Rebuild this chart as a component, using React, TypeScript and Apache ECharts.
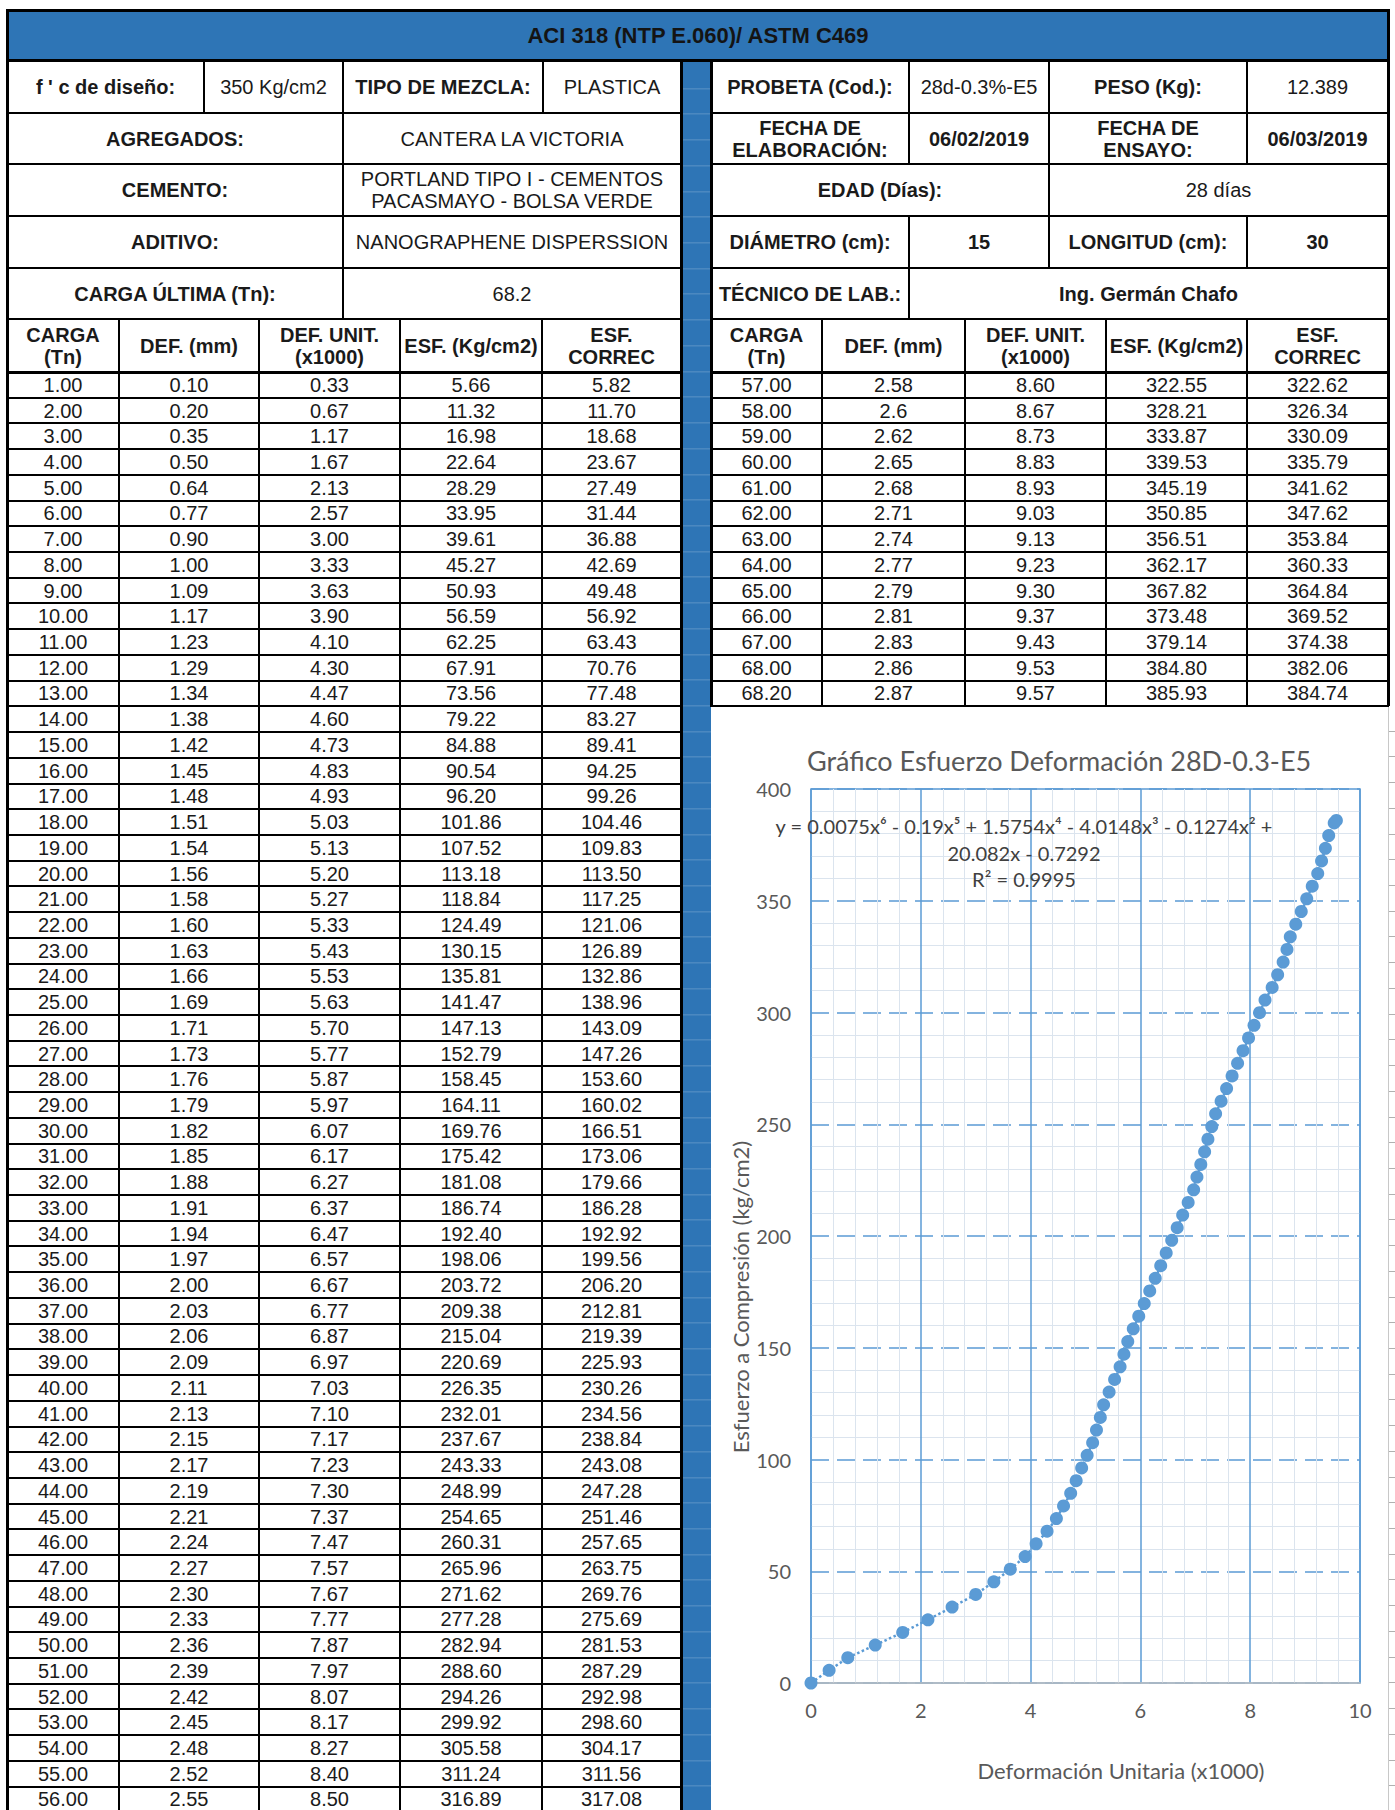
import React, { useEffect, useRef } from "react";
import * as echarts from "echarts";

// ---------------- DATA ----------------
const carga = [
  "1.00","2.00","3.00","4.00","5.00","6.00","7.00","8.00","9.00","10.00",
  "11.00","12.00","13.00","14.00","15.00","16.00","17.00","18.00","19.00","20.00",
  "21.00","22.00","23.00","24.00","25.00","26.00","27.00","28.00","29.00","30.00",
  "31.00","32.00","33.00","34.00","35.00","36.00","37.00","38.00","39.00","40.00",
  "41.00","42.00","43.00","44.00","45.00","46.00","47.00","48.00","49.00","50.00",
  "51.00","52.00","53.00","54.00","55.00","56.00",
  "57.00","58.00","59.00","60.00","61.00","62.00","63.00","64.00","65.00","66.00",
  "67.00","68.00","68.20",
];
const defMm = [
  "0.10","0.20","0.35","0.50","0.64","0.77","0.90","1.00","1.09","1.17",
  "1.23","1.29","1.34","1.38","1.42","1.45","1.48","1.51","1.54","1.56",
  "1.58","1.60","1.63","1.66","1.69","1.71","1.73","1.76","1.79","1.82",
  "1.85","1.88","1.91","1.94","1.97","2.00","2.03","2.06","2.09","2.11",
  "2.13","2.15","2.17","2.19","2.21","2.24","2.27","2.30","2.33","2.36",
  "2.39","2.42","2.45","2.48","2.52","2.55",
  "2.58","2.6","2.62","2.65","2.68","2.71","2.74","2.77","2.79","2.81",
  "2.83","2.86","2.87",
];
const defUnit = [
  "0.33","0.67","1.17","1.67","2.13","2.57","3.00","3.33","3.63","3.90",
  "4.10","4.30","4.47","4.60","4.73","4.83","4.93","5.03","5.13","5.20",
  "5.27","5.33","5.43","5.53","5.63","5.70","5.77","5.87","5.97","6.07",
  "6.17","6.27","6.37","6.47","6.57","6.67","6.77","6.87","6.97","7.03",
  "7.10","7.17","7.23","7.30","7.37","7.47","7.57","7.67","7.77","7.87",
  "7.97","8.07","8.17","8.27","8.40","8.50",
  "8.60","8.67","8.73","8.83","8.93","9.03","9.13","9.23","9.30","9.37",
  "9.43","9.53","9.57",
];
const esf = [
  "5.66","11.32","16.98","22.64","28.29","33.95","39.61","45.27","50.93","56.59",
  "62.25","67.91","73.56","79.22","84.88","90.54","96.20","101.86","107.52","113.18",
  "118.84","124.49","130.15","135.81","141.47","147.13","152.79","158.45","164.11","169.76",
  "175.42","181.08","186.74","192.40","198.06","203.72","209.38","215.04","220.69","226.35",
  "232.01","237.67","243.33","248.99","254.65","260.31","265.96","271.62","277.28","282.94",
  "288.60","294.26","299.92","305.58","311.24","316.89",
  "322.55","328.21","333.87","339.53","345.19","350.85","356.51","362.17","367.82","373.48",
  "379.14","384.80","385.93",
];
const esfCorrec = [
  "5.82","11.70","18.68","23.67","27.49","31.44","36.88","42.69","49.48","56.92",
  "63.43","70.76","77.48","83.27","89.41","94.25","99.26","104.46","109.83","113.50",
  "117.25","121.06","126.89","132.86","138.96","143.09","147.26","153.60","160.02","166.51",
  "173.06","179.66","186.28","192.92","199.56","206.20","212.81","219.39","225.93","230.26",
  "234.56","238.84","243.08","247.28","251.46","257.65","263.75","269.76","275.69","281.53",
  "287.29","292.98","298.60","304.17","311.56","317.08",
  "322.62","326.34","330.09","335.79","341.62","347.62","353.84","360.33","364.84","369.52",
  "374.38","382.06","384.74",
];
const columnHeaders = ["CARGA\n(Tn)", "DEF. (mm)", "DEF. UNIT.\n(x1000)", "ESF. (Kg/cm2)", "ESF.\nCORREC"];
const xTicks = { min: 0, max: 10, interval: 2 };
const yTicks = { min: 0, max: 400, interval: 50 };
const titleText = "ACI 318 (NTP E.060)/ ASTM C469";
const chartTitle = "Gráfico Esfuerzo Deformación 28D-0.3-E5";
const equationLines = [
  "y = 0.0075x⁶ - 0.19x⁵ + 1.5754x⁴ - 4.0148x³ - 0.1274x² +",
  "20.082x - 0.7292",
  "R² = 0.9995",
];
const xName = "Deformación Unitaria (x1000)";
const yName = "Esfuerzo a Compresión (kg/cm2)";

// ---------------- LAYOUT ----------------
const ROW_TOP = 372;
const ROW_H = 25.72;
const LEFT_N = 56;
const LC = [7, 119, 259, 400, 542, 681];
const RC = [711, 822, 965, 1106, 1247, 1388];
const INFO_Y = [61, 113, 164, 216, 268, 319];
const BLUE = "#2e75b6";
const FONT = "'Liberation Sans', Arial, sans-serif";

type CellDef = { x1: number; x2: number; r: number; t: string; b?: boolean };
const infoCells: CellDef[] = [
  { x1: 7, x2: 204, r: 0, t: "f ' c de diseño:", b: true },
  { x1: 204, x2: 343, r: 0, t: "350 Kg/cm2" },
  { x1: 343, x2: 543, r: 0, t: "TIPO DE MEZCLA:", b: true },
  { x1: 543, x2: 681, r: 0, t: "PLASTICA" },
  { x1: 7, x2: 343, r: 1, t: "AGREGADOS:", b: true },
  { x1: 343, x2: 681, r: 1, t: "CANTERA LA VICTORIA" },
  { x1: 7, x2: 343, r: 2, t: "CEMENTO:", b: true },
  { x1: 343, x2: 681, r: 2, t: "PORTLAND TIPO I - CEMENTOS\nPACASMAYO - BOLSA VERDE" },
  { x1: 7, x2: 343, r: 3, t: "ADITIVO:", b: true },
  { x1: 343, x2: 681, r: 3, t: "NANOGRAPHENE DISPERSSION" },
  { x1: 7, x2: 343, r: 4, t: "CARGA ÚLTIMA (Tn):", b: true },
  { x1: 343, x2: 681, r: 4, t: "68.2" },
  { x1: 711, x2: 909, r: 0, t: "PROBETA (Cod.):", b: true },
  { x1: 909, x2: 1049, r: 0, t: "28d-0.3%-E5" },
  { x1: 1049, x2: 1247, r: 0, t: "PESO (Kg):", b: true },
  { x1: 1247, x2: 1388, r: 0, t: "12.389" },
  { x1: 711, x2: 909, r: 1, t: "FECHA DE\nELABORACIÓN:", b: true },
  { x1: 909, x2: 1049, r: 1, t: "06/02/2019", b: true },
  { x1: 1049, x2: 1247, r: 1, t: "FECHA DE\nENSAYO:", b: true },
  { x1: 1247, x2: 1388, r: 1, t: "06/03/2019", b: true },
  { x1: 711, x2: 1049, r: 2, t: "EDAD (Días):", b: true },
  { x1: 1049, x2: 1388, r: 2, t: "28 días" },
  { x1: 711, x2: 909, r: 3, t: "DIÁMETRO (cm):", b: true },
  { x1: 909, x2: 1049, r: 3, t: "15", b: true },
  { x1: 1049, x2: 1247, r: 3, t: "LONGITUD (cm):", b: true },
  { x1: 1247, x2: 1388, r: 3, t: "30", b: true },
  { x1: 711, x2: 909, r: 4, t: "TÉCNICO DE LAB.:", b: true },
  { x1: 909, x2: 1388, r: 4, t: "Ing. Germán Chafo", b: true },
];

function Cell(p: { x1: number; x2: number; y1: number; y2: number; t: string; b?: boolean; bw?: number; fs?: number }) {
  const bw = p.bw ?? 2;
  return (
    <div
      style={{
        position: "absolute",
        left: p.x1 - bw / 2,
        top: p.y1 - bw / 2,
        width: p.x2 - p.x1 + bw,
        height: p.y2 - p.y1 + bw,
        boxSizing: "border-box",
        border: `${bw}px solid #000`,
        display: "flex",
        alignItems: "center",
        justifyContent: "center",
        textAlign: "center",
        whiteSpace: "pre",
        fontWeight: p.b ? 700 : 400,
        fontSize: p.fs ?? 20,
        lineHeight: "22px",
        color: "#1a1a1a",
        background: "#fff",
      }}
    >
      {p.t}
    </div>
  );
}

function Bar(p: { x: number; y: number; w: number; h: number; c?: string }) {
  return <div style={{ position: "absolute", left: p.x, top: p.y, width: p.w, height: p.h, background: p.c ?? "#000" }} />;
}

function Chart() {
  const ref = useRef<HTMLDivElement>(null);
  useEffect(() => {
    if (!ref.current) return;
    const chart = echarts.init(ref.current, undefined, { renderer: "svg" });
    const points: number[][] = [[0, 0]].concat(defUnit.map((d, i) => [parseFloat(d), parseFloat(esf[i])]));
    const axisFont = { color: "#595959", fontSize: 20, fontFamily: "Lato" };
    const minor = { show: true, lineStyle: { color: "#dbe4ee", width: 1 } };
    chart.setOption({
      animation: false,
      grid: { left: 100, right: 28, top: 82, bottom: 127, show: true, borderColor: "#5b9bd5", borderWidth: 1.5, backgroundColor: "transparent" },
      xAxis: {
        type: "value", min: xTicks.min, max: xTicks.max, interval: xTicks.interval,
        axisLine: { show: true, onZero: false, lineStyle: { color: "#bfbfbf", width: 1.5 } },
        axisTick: { show: false },
        axisLabel: { ...axisFont, margin: 17 },
        splitLine: { show: true, lineStyle: { color: "#5b9bd5", width: 1.5 } },
        minorTick: { show: false, splitNumber: 5 },
        minorSplitLine: minor,
      },
      yAxis: {
        type: "value", min: yTicks.min, max: yTicks.max, interval: yTicks.interval,
        axisLine: { show: false },
        axisTick: { show: false },
        axisLabel: { ...axisFont, margin: 20 },
        splitLine: { show: true, lineStyle: { color: "#5b9bd5", width: 1.5, type: [18, 8] } },
        minorTick: { show: false, splitNumber: 5 },
        minorSplitLine: minor,
      },
      series: [
        { type: "line", data: points, symbol: "none", lineStyle: { color: "#5b9bd5", width: 2.5, type: "dotted" }, z: 2, silent: true },
        { type: "scatter", data: points, symbolSize: 13, itemStyle: { color: "#5b9bd5", opacity: 1 }, z: 3 },
      ],
      graphic: [
        { type: "text", x: 348, y: 53, style: { text: chartTitle, fill: "#595959", font: "27px Lato", textAlign: "center", textVerticalAlign: "middle" } },
        ...equationLines.map((t, i) => ({
          type: "text", x: 313, y: 119 + i * 26.5, z: 10,
          style: { text: t, fill: "#404040", font: "20px Lato", textAlign: "center", textVerticalAlign: "middle" },
        })),
        { type: "text", x: 29, y: 590, rotation: Math.PI / 2, style: { text: yName, fill: "#595959", font: "22px Lato", textAlign: "center", textVerticalAlign: "middle" } },
        { type: "text", x: 410, y: 1063, style: { text: xName, fill: "#595959", font: "22px Lato", textAlign: "center", textVerticalAlign: "middle" } },
      ],
    });
    return () => chart.dispose();
  }, []);
  return <div ref={ref} style={{ position: "absolute", left: 711, top: 707, width: 677, height: 1103 }} />;
}

export default function App() {
  const cells: React.ReactNode[] = [];
  infoCells.forEach((c, i) =>
    cells.push(<Cell key={"i" + i} x1={c.x1} x2={c.x2} y1={INFO_Y[c.r]} y2={INFO_Y[c.r + 1]} t={c.t} b={c.b} />)
  );
  [LC, RC].forEach((cols, pi) =>
    columnHeaders.forEach((h, j) =>
      cells.push(<Cell key={"h" + pi + j} x1={cols[j]} x2={cols[j + 1]} y1={319} y2={ROW_TOP} t={h} b />)
    )
  );
  const cols = [carga, defMm, defUnit, esf, esfCorrec];
  carga.forEach((_, i) => {
    const left = i < LEFT_N;
    const colX = left ? LC : RC;
    const r = left ? i : i - LEFT_N;
    const y1 = ROW_TOP + r * ROW_H;
    cols.forEach((arr, j) =>
      cells.push(<Cell key={"d" + i + "_" + j} x1={colX[j]} x2={colX[j + 1]} y1={y1} y2={y1 + ROW_H} t={arr[i]} />)
    );
  });
  const rightEnd = ROW_TOP + (carga.length - LEFT_N) * ROW_H;
  return (
    <div style={{ position: "absolute", left: 0, top: 0, width: 1395, height: 1810, overflow: "hidden", background: "#fff", fontFamily: FONT }}>
      {/* blue separator strip */}
      <div
        style={{
          position: "absolute", left: 682, top: 61, width: 29, height: 1760,
          backgroundColor: BLUE,
          backgroundImage: `repeating-linear-gradient(to bottom, transparent 0px, transparent ${ROW_H - 1}px, rgba(255,255,255,0.22) ${ROW_H - 1}px, rgba(255,255,255,0.22) ${ROW_H}px)`,
          backgroundPosition: `0px ${(ROW_TOP - 61) % ROW_H}px`,
        }}
      />
      {/* header bar */}
      <div
        style={{
          position: "absolute", left: 6, top: 9, width: 1384, height: 53, boxSizing: "border-box",
          border: "3px solid #000", background: BLUE, display: "flex", alignItems: "center", justifyContent: "center",
          fontWeight: 700, fontSize: 22, color: "#141414",
        }}
      >
        {titleText}
      </div>
      {/* chart area */}
      <div style={{ position: "absolute", left: 711, top: rightEnd, width: 677, height: 1810 - rightEnd, background: "#fff", borderTop: "1px solid #d9d9d9" }} />
      <Bar x={1388} y={rightEnd} w={1} h={1810} c="#c8c8c8" />
      <div
        style={{
          position: "absolute", left: 1389, top: rightEnd, width: 6, height: 1200,
          backgroundImage: `repeating-linear-gradient(to bottom, transparent 0px, transparent ${ROW_H - 1}px, #b0b0b0 ${ROW_H - 1}px, #b0b0b0 ${ROW_H}px)`,
        }}
      />
      <Chart />
      {cells}
      {/* thick frame lines */}
      <Bar x={5.5} y={10} w={3} h={1800} />
      <Bar x={679.5} y={61} w={3} h={1750} />
      <Bar x={709.5} y={61} w={3} h={rightEnd - 61} />
      <Bar x={1386.5} y={61} w={3} h={rightEnd - 61} />
      <Bar x={6} y={ROW_TOP - 1.5} w={676} h={3} />
      <Bar x={710} y={ROW_TOP - 1.5} w={679} h={3} />
    </div>
  );
}
